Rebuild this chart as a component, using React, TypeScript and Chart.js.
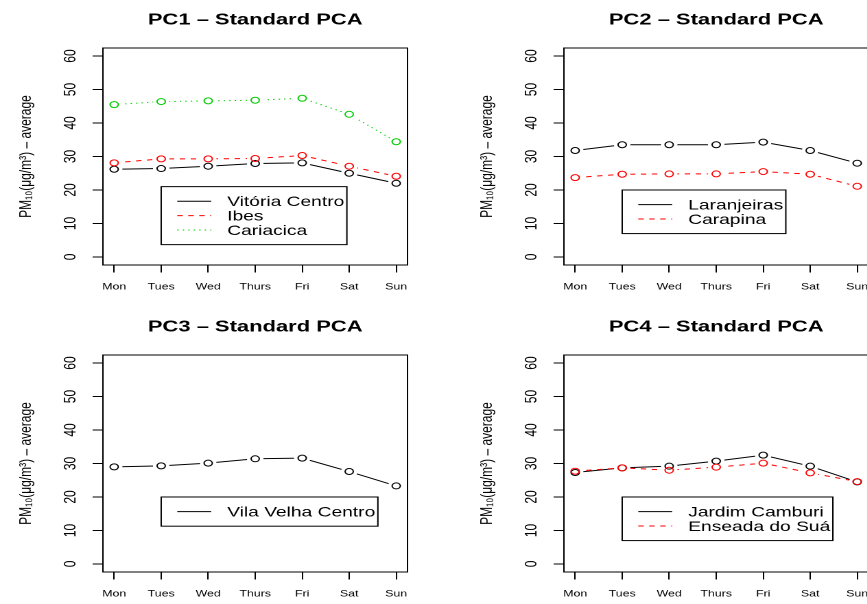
import React, { useEffect, useRef } from "react";
import { Chart, registerables } from "chart.js";

Chart.register(...registerables);

// ---------- data ----------
const days = ["Mon", "Tues", "Wed", "Thurs", "Fri", "Sat", "Sun"];
const yTickValues = [0, 10, 20, 30, 40, 50, 60];

const vitoriaCentro = [26.2, 26.4, 27.1, 27.9, 28.1, 25.0, 22.0];
const ibes = [28.1, 29.3, 29.3, 29.4, 30.3, 27.1, 24.1];
const cariacica = [45.5, 46.4, 46.6, 46.8, 47.4, 42.6, 34.4];

const laranjeiras = [31.8, 33.5, 33.5, 33.5, 34.3, 31.8, 28.0];
const carapina = [23.7, 24.7, 24.8, 24.8, 25.5, 24.7, 21.1];

const vilaVelhaCentro = [29.0, 29.3, 30.1, 31.4, 31.6, 27.6, 23.3];

const jardimCamburi = [27.3, 28.7, 29.2, 30.7, 32.5, 29.2, 24.5];
const enseadaDoSua = [27.7, 28.7, 28.0, 28.9, 30.1, 27.2, 24.6];

const panelTitles = [
  "PC1 – Standard PCA",
  "PC2 – Standard PCA",
  "PC3 – Standard PCA",
  "PC4 – Standard PCA",
];
const yAxisTitle = "PM₁₀(μg/m³) – average";

// ---------- styling ----------
const FONT = "'Liberation Sans', Arial, Helvetica, sans-serif";
const BLACK = "#000000";
const RED = "#FF0000";
const GREEN = "#00CC00";
const SOLID: number[] = [];
const DASHED = [4, 4];
const DOTTED = [1, 3];

const PANEL_W = 461; // on-screen width of one panel
const PANEL_H = 307;
const CANVAS_W = 336; // logical canvas width (stretched horizontally on screen)
const SX = PANEL_W / CANVAS_W;
const AREA_LEFT = 75;
const AREA_RIGHT = 297;
const AREA_TOP = 48;
const XAXIS_H = 42;
const GAP = 6;
const PT_R = 3;

type Series = { label: string; values: number[]; color: string; dash: number[] };
type PanelDef = { title: string; series: Series[]; legendX: number; legendY: number };

const panels: PanelDef[] = [
  {
    title: panelTitles[0],
    legendX: 2,
    legendY: 21,
    series: [
      { label: "Vitória Centro", values: vitoriaCentro, color: BLACK, dash: SOLID },
      { label: "Ibes", values: ibes, color: RED, dash: DASHED },
      { label: "Cariacica", values: cariacica, color: GREEN, dash: DOTTED },
    ],
  },
  {
    title: panelTitles[1],
    legendX: 2,
    legendY: 20,
    series: [
      { label: "Laranjeiras", values: laranjeiras, color: BLACK, dash: SOLID },
      { label: "Carapina", values: carapina, color: RED, dash: DASHED },
    ],
  },
  {
    title: panelTitles[2],
    legendX: 2,
    legendY: 20,
    series: [{ label: "Vila Velha Centro", values: vilaVelhaCentro, color: BLACK, dash: SOLID }],
  },
  {
    title: panelTitles[3],
    legendX: 2,
    legendY: 20,
    series: [
      { label: "Jardim Camburi", values: jardimCamburi, color: BLACK, dash: SOLID },
      { label: "Enseada do Suá", values: enseadaDoSua, color: RED, dash: DASHED },
    ],
  },
];

function makePlugin(panel: PanelDef) {
  return {
    id: "rStyle",
    beforeDatasetDraw(chart: any, args: any) {
      const ds: any = chart.data.datasets[args.index];
      if (!ds.gapLine) return;
      const ctx = chart.ctx;
      ctx.save();
      ctx.beginPath();
      ctx.rect(0, 0, chart.width, chart.height);
      for (const pt of args.meta.data) {
        ctx.moveTo(pt.x + GAP, pt.y);
        ctx.arc(pt.x, pt.y, GAP, 0, Math.PI * 2);
      }
      ctx.clip("evenodd");
    },
    afterDatasetDraw(chart: any, args: any) {
      const ds: any = chart.data.datasets[args.index];
      if (ds.gapLine) chart.ctx.restore();
    },
    afterDraw(chart: any) {
      const ctx = chart.ctx;
      const a = chart.chartArea;
      ctx.save();
      // plot box
      ctx.strokeStyle = BLACK;
      ctx.lineWidth = 1;
      ctx.setLineDash([]);
      ctx.strokeRect(a.left, a.top, a.right - a.left, a.bottom - a.top);

      // title
      ctx.fillStyle = BLACK;
      ctx.font = `bold 16px ${FONT}`;
      ctx.textAlign = "center";
      ctx.textBaseline = "alphabetic";
      ctx.fillText(panel.title, (a.left + a.right) / 2, 24.3);

      // legend
      const xs = chart.scales.x;
      const ys = chart.scales.y;
      const left = xs.getPixelForValue(panel.legendX);
      const top = ys.getPixelForValue(panel.legendY);
      ctx.font = `14px ${FONT}`;
      let maxW = 0;
      for (const s of panel.series) maxW = Math.max(maxW, ctx.measureText(s.label).width);
      const rowH = 14.4;
      const pad = 7.4;
      const w = maxW + 50;
      const h = panel.series.length * rowH + 2 * pad;
      ctx.fillStyle = "#ffffff";
      ctx.fillRect(left, top, w, h);
      ctx.strokeStyle = BLACK;
      ctx.lineWidth = 1;
      ctx.strokeRect(left, top, w, h);
      panel.series.forEach((s, i) => {
        const cy = top + pad + rowH / 2 + i * rowH;
        ctx.beginPath();
        ctx.strokeStyle = s.color;
        ctx.setLineDash(s.dash);
        ctx.moveTo(left + 11.7, cy);
        ctx.lineTo(left + 36.4, cy);
        ctx.stroke();
        ctx.setLineDash([]);
        ctx.fillStyle = BLACK;
        ctx.textAlign = "left";
        ctx.textBaseline = "alphabetic";
        ctx.fillText(s.label, left + 48.1, cy + 5);
      });
      ctx.restore();
    },
  };
}

function Panel({ panel }: { panel: PanelDef }) {
  const ref = useRef<HTMLCanvasElement | null>(null);
  useEffect(() => {
    const canvas = ref.current;
    if (!canvas) return;
    const n = panel.series.length;
    const datasets: any[] = [];
    panel.series.forEach((s, i) => {
      const pts = s.values.map((v, k) => ({ x: k + 1, y: v }));
      datasets.push({
        label: s.label,
        data: pts,
        borderColor: s.color,
        borderWidth: 1,
        borderDash: s.dash,
        pointRadius: 0,
        pointHoverRadius: 0,
        fill: false,
        tension: 0,
        order: 100 - 2 * i,
        gapLine: true,
      });
      datasets.push({
        label: s.label + " points",
        data: pts,
        showLine: false,
        pointRadius: PT_R,
        pointHoverRadius: PT_R,
        pointBorderWidth: 1,
        pointBorderColor: s.color,
        pointBackgroundColor: "rgba(0,0,0,0)",
        order: 99 - 2 * i,
      });
    });
    void n;
    const chart = new Chart(canvas, {
      type: "line",
      data: { datasets },
      options: {
        responsive: false,
        animation: false,
        devicePixelRatio: 2,
        events: [],
        layout: { padding: { left: 0, top: AREA_TOP, right: CANVAS_W - AREA_RIGHT, bottom: 0 } },
        plugins: { legend: { display: false }, tooltip: { enabled: false }, title: { display: false } },
        scales: {
          x: {
            type: "linear",
            min: 0.76,
            max: 7.24,
            afterBuildTicks: (axis: any) => {
              axis.ticks = days.map((_, i) => ({ value: i + 1 }));
            },
            afterFit: (axis: any) => {
              axis.height = XAXIS_H;
            },
            grid: {
              display: true,
              drawOnChartArea: false,
              drawTicks: true,
              tickLength: 7.5,
              tickColor: BLACK,
              tickWidth: 1,
              color: BLACK,
            },
            border: { display: true, color: BLACK, width: 1 },
            ticks: {
              autoSkip: false,
              maxRotation: 0,
              minRotation: 0,
              padding: 9,
              color: BLACK,
              font: { family: FONT, size: 9 },
              callback: (v: any) => days[Math.round(Number(v)) - 1] ?? "",
            },
          },
          y: {
            type: "linear",
            min: -2.4,
            max: 62.4,
            afterBuildTicks: (axis: any) => {
              axis.ticks = yTickValues.map((v) => ({ value: v }));
            },
            afterFit: (axis: any) => {
              axis.width = AREA_LEFT;
            },
            grid: {
              display: true,
              drawOnChartArea: false,
              drawTicks: true,
              tickLength: 7.5,
              tickColor: BLACK,
              tickWidth: 1,
              color: BLACK,
            },
            border: { display: true, color: BLACK, width: 1 },
            ticks: {
              autoSkip: false,
              minRotation: 90,
              maxRotation: 90,
              crossAlign: "center",
              padding: 9.3,
              color: BLACK,
              font: { family: FONT, size: 12 },
            },
            title: {
              display: true,
              text: yAxisTitle,
              color: BLACK,
              font: { family: FONT, size: 12 },
              padding: { top: 11.8, bottom: 0 },
            },
          },
        },
      } as any,
      plugins: [makePlugin(panel)],
    });
    return () => chart.destroy();
  }, [panel]);
  return <canvas ref={ref} width={CANVAS_W} height={PANEL_H} style={{ display: "block" }} />;
}

export default function App() {
  return (
    <div
      style={{
        position: "absolute",
        left: 0,
        top: 0,
        width: 867,
        height: 604,
        overflow: "hidden",
        background: "#ffffff",
      }}
    >
      {panels.map((p, i) => (
        <div
          key={i}
          style={{
            position: "absolute",
            left: (i % 2) * PANEL_W,
            top: Math.floor(i / 2) * PANEL_H,
            width: CANVAS_W,
            height: PANEL_H,
            transform: `scaleX(${SX})`,
            transformOrigin: "0 0",
          }}
        >
          <Panel panel={p} />
        </div>
      ))}
    </div>
  );
}
